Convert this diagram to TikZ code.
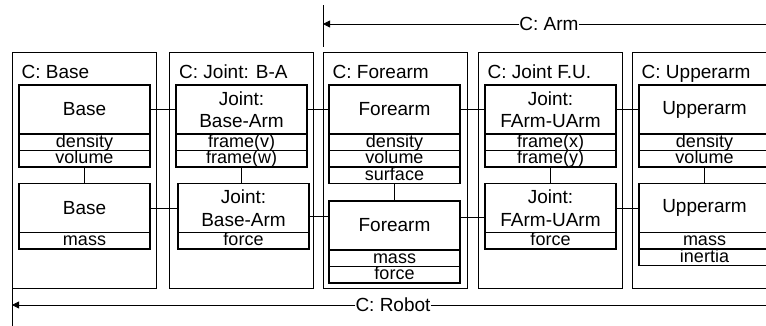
\documentclass[tikz,border=0pt]{standalone}
\usepackage{fontspec}
\setmainfont{Liberation Sans}
\usetikzlibrary{arrows.meta,positioning}

\tikzset{
  cbox/.style={draw,line width=1pt,minimum width=144pt,minimum height=236pt,inner sep=0pt},
  clab/.style={anchor=base west,inner sep=0pt,font=\fontsize{19}{22}\selectfont},
  obj/.style={draw,line width=1.3pt,outer sep=0pt,minimum width=131pt,minimum height=49pt,
    inner sep=0pt,align=center,font=\fontsize{19}{22.5}\selectfont},
  attr/.style={draw,line width=1.3pt,outer sep=0pt,minimum width=131pt,minimum height=16.5pt,
    inner sep=0pt,text height=12pt,text depth=2.5pt,font=\fontsize{18}{18}\selectfont},
  link/.style={line width=0.8pt},
  scopelab/.style={inner sep=0pt,font=\fontsize{19}{22}\selectfont},
  scopeline/.style={line width=0.8pt}
}

\begin{document}
\begin{tikzpicture}[x=1pt,y=-1pt]
  \clip (0,0) rectangle (766,325);
  \foreach \i/\x/\lab in {base/84/Base, jba/241.5/{Joint: B-A}, fa/395/Forearm, jfu/550/{Joint F.U.}, ua/704/Upperarm} {
    \node[cbox] (c\i) at (\x,170) {};
    \node[clab] (c\i lab) at ([xshift=10pt,yshift=-27pt]c\i.north west) {C: \lab};
  }

  \node[obj] (base1) at (84.5,109.5) {Base};
  \node[attr,below=0pt of base1] (base1a) {density};
  \node[attr,below=0pt of base1a] (base1b) {volume};
  \node[obj] (base2) at (84.5,208) {Base};
  \node[attr,below=0pt of base2] (base2a) {mass};

  \node[obj] (jba1) at (241.5,109.5) {Joint:\\Base-Arm};
  \node[attr,below=0pt of jba1] (jba1a) {frame(v)};
  \node[attr,below=0pt of jba1a] (jba1b) {frame(w)};
  \node[obj] (jba2) at (243.5,208) {Joint:\\Base-Arm};
  \node[attr,below=0pt of jba2] (jba2a) {force};

  \node[obj] (fa1) at (394.5,109.5) {Forearm};
  \node[attr,below=0pt of fa1] (fa1a) {density};
  \node[attr,below=0pt of fa1a] (fa1b) {volume};
  \node[attr,below=0pt of fa1b] (fa1c) {surface};
  \node[obj] (fa2) at (394.5,225.5) {Forearm};
  \node[attr,below=0pt of fa2] (fa2a) {mass};
  \node[attr,below=0pt of fa2a] (fa2b) {force};

  \node[obj] (jfu1) at (550.5,109.5) {Joint:\\FArm-UArm};
  \node[attr,below=0pt of jfu1] (jfu1a) {frame(x)};
  \node[attr,below=0pt of jfu1a] (jfu1b) {frame(y)};
  \node[obj] (jfu2) at (550.5,208) {Joint:\\FArm-UArm};
  \node[attr,below=0pt of jfu2] (jfu2a) {force};

  \node[obj] (ua1) at (704.5,109.5) {Upperarm};
  \node[attr,below=0pt of ua1] (ua1a) {density};
  \node[attr,below=0pt of ua1a] (ua1b) {volume};
  \node[obj] (ua2) at (704.5,208) {Upperarm};
  \node[attr,below=0pt of ua2] (ua2a) {mass};
  \node[attr,below=0pt of ua2a] (ua2b) {inertia};

  \draw[link] (base1b.south) -- (base1b.south |- base2.north);
  \draw[link] (jba1b.south) -- (jba1b.south |- jba2.north);
  \draw[link] (fa1c.south) -- (fa1c.south |- fa2.north);
  \draw[link] (jfu1b.south) -- (jfu1b.south |- jfu2.north);
  \draw[link] (ua1b.south) -- (ua1b.south |- ua2.north);

  \draw[link] (base1) -- (jba1);
  \draw[link] (jba1) -- (fa1);
  \draw[link] (fa1) -- (jfu1);
  \draw[link] (jfu1) -- (ua1);
  \draw[link] (base2) -- (jba2);
  \draw[link] ([yshift=-8.5pt]jba2.east) -- ([yshift=-8.5pt]jba2.east -| fa2.west);
  \draw[link] ([yshift=8.5pt]fa2.east) -- ([yshift=8.5pt]fa2.east -| jfu2.west);
  \draw[link] (jfu2) -- (ua2);

  \coordinate (armtop) at (323,5);
  \coordinate (armbot) at (323,47);
  \coordinate (armend) at (780,24);
  \draw[scopeline] (armtop) -- (armbot);
  \node[scopelab] (armlab) at (549,24) {C: Arm};
  \draw[scopeline,-{Triangle[length=7pt,width=7pt]}] (armlab.west) -- (armlab.west -| armtop);
  \draw[scopeline] (armlab.east) -- (armend);

  \coordinate (robtop) at (12,278);
  \coordinate (robbot) at (12,330);
  \coordinate (robend) at (780,305);
  \draw[scopeline] (robtop) -- (robbot);
  \node[scopelab] (roblab) at (393,305) {C: Robot};
  \draw[scopeline,-{Triangle[length=7pt,width=7pt]}] (roblab.west) -- (roblab.west -| robtop);
  \draw[scopeline] (roblab.east) -- (robend);
\end{tikzpicture}
\end{document}
